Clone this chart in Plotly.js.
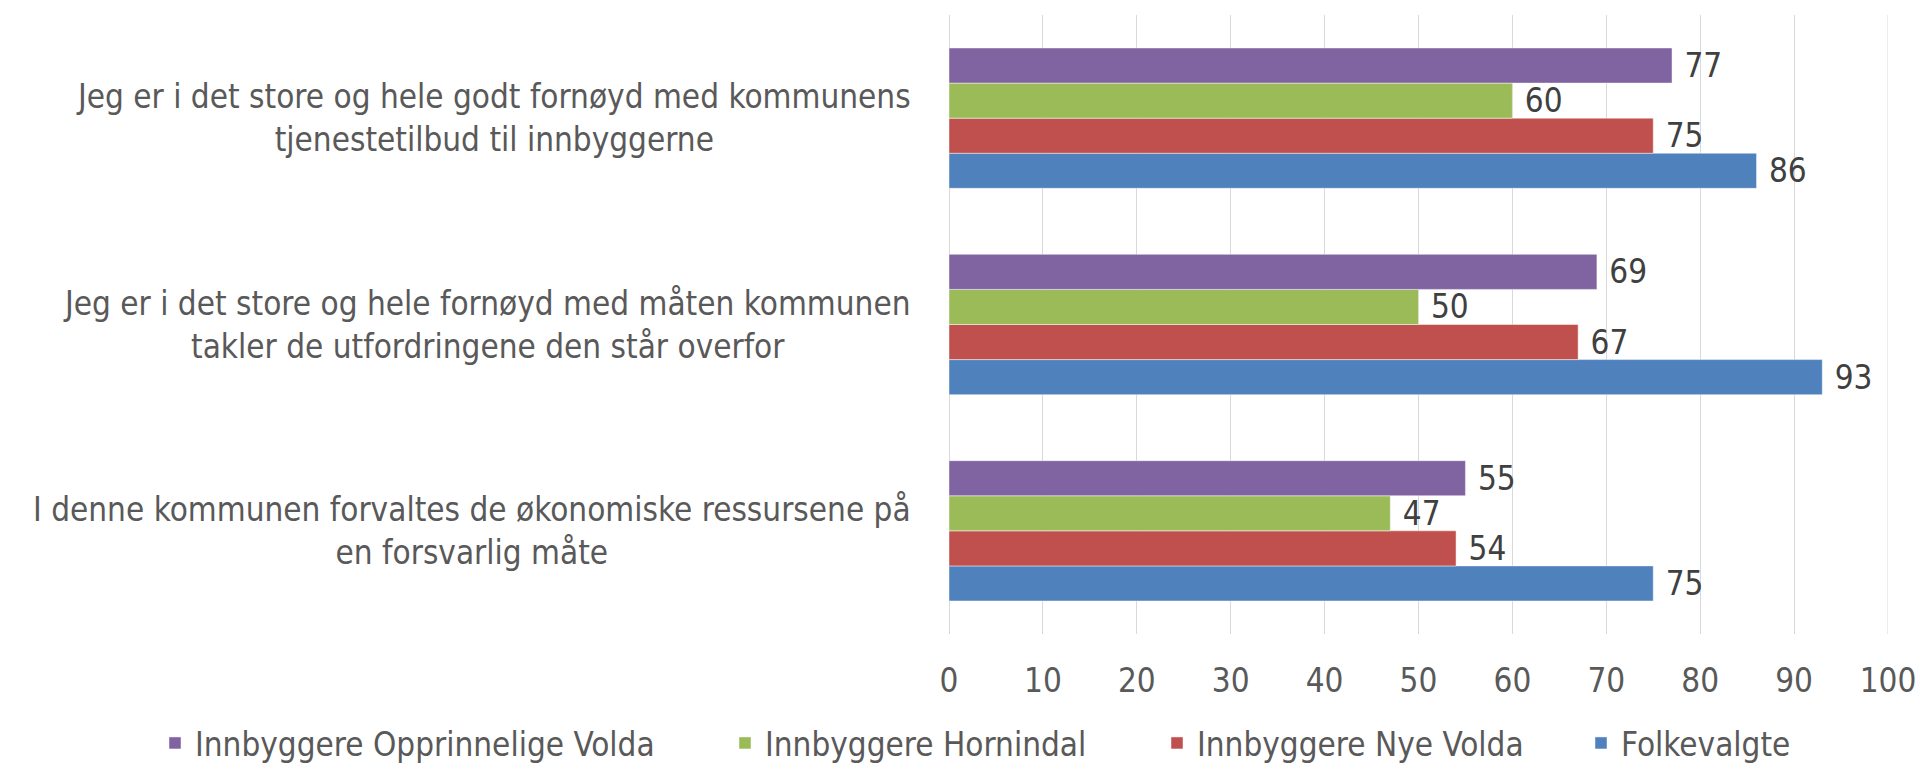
<!DOCTYPE html>
<html>
<head>
<meta charset="utf-8">
<script src="https://cdn.plot.ly/plotly-3.0.1.min.js"></script>
<style>html,body{margin:0;padding:0;background:#fff;}#chart{width:1915px;height:763px;}</style>
</head>
<body>
<div id="chart"></div>
<script>
// Categories listed bottom to top
const categories = [
  "I denne kommunen forvaltes de økonomiske ressursene på<br>en forsvarlig måte",
  "Jeg er i det store og hele fornøyd med måten kommunen<br>takler de utfordringene den står overfor",
  "Jeg er i det store og hele godt fornøyd med kommunens<br>tjenestetilbud til innbyggerne"
];
const folkevalgte = [75, 93, 86];
const nyeVolda = [54, 67, 75];
const hornindal = [47, 50, 60];
const opprVolda = [55, 69, 77];
const seriesNames = ["Folkevalgte", "Innbyggere Nye Volda", "Innbyggere Hornindal", "Innbyggere Opprinnelige Volda"];
const xTicks = [0, 10, 20, 30, 40, 50, 60, 70, 80, 90, 100];

const FONT = '"Liberation Sans Narrow", "DejaVu Sans Condensed", sans-serif';
const colors = ["#4F81BD", "#C0504D", "#9BBB59", "#8064A2"];
const values = [folkevalgte, nyeVolda, hornindal, opprVolda];
const legendIds = ['legend4', 'legend3', 'legend2', 'legend'];
const legendLeftPx = [1581, 1157, 725, 155];

const PL = 949, PW = 939;

const traces = values.map((v, i) => ({
  type: 'bar',
  orientation: 'h',
  name: seriesNames[i],
  legend: legendIds[i],
  y: categories,
  x: v,
  texttemplate: '\u00a0%{x}',
  textposition: 'outside',
  constraintext: 'none',
  cliponaxis: false,
  textfont: {family: FONT, size: 33, color: '#404040'},
  marker: {color: colors[i], line: {color: 'rgba(255,255,255,0.45)', width: 1}},
  hoverinfo: 'x+name'
}));

const annotations = categories.map(c => ({
  xref: 'paper', yref: 'y', x: -0.038, y: c,
  xanchor: 'right', yanchor: 'middle', align: 'center',
  text: c, showarrow: false,
  font: {family: FONT, size: 33, color: '#595959'}
}));

function legendAt(px) {
  return {
    orientation: 'h',
    x: (px - PL) / PW, xanchor: 'left',
    yref: 'container', y: 1 - 743 / 763, yanchor: 'middle',
    font: {family: FONT, size: 33, color: '#595959'},
    bgcolor: 'rgba(0,0,0,0)', borderwidth: 0,
    itemclick: false, itemdoubleclick: false
  };
}

const layout = {
  width: 1915, height: 763,
  margin: {l: PL, r: 27, t: 15, b: 129, autoexpand: false},
  paper_bgcolor: '#fff', plot_bgcolor: '#fff',
  barmode: 'group', bargap: 0.32, bargroupgap: 0,
  showlegend: true,
  legend: legendAt(legendLeftPx[3]),
  legend2: legendAt(legendLeftPx[2]),
  legend3: legendAt(legendLeftPx[1]),
  legend4: legendAt(legendLeftPx[0]),
  xaxis: {
    range: [0, 100], tickvals: xTicks, ticktext: xTicks.map(String),
    showgrid: true, gridcolor: '#D9D9D9', gridwidth: 1,
    zeroline: true, zerolinecolor: '#D9D9D9', zerolinewidth: 1,
    showline: false, ticks: '',
    ticklabeloverflow: 'allow',
    tickfont: {family: FONT, size: 33, color: '#595959'},
    ticklabelstandoff: 24
  },
  yaxis: {
    type: 'category', showticklabels: false, ticks: '',
    showgrid: false, zeroline: false, showline: false
  },
  shapes: [{
    type: 'line', xref: 'x', yref: 'paper', x0: xTicks[xTicks.length - 1], x1: xTicks[xTicks.length - 1],
    y0: 0, y1: 1, line: {color: '#D9D9D9', width: 1}, layer: 'below'
  }],
  annotations: annotations
};

Plotly.newPlot('chart', traces, layout, {displayModeBar: false, staticPlot: true});
</script>
</body>
</html>
